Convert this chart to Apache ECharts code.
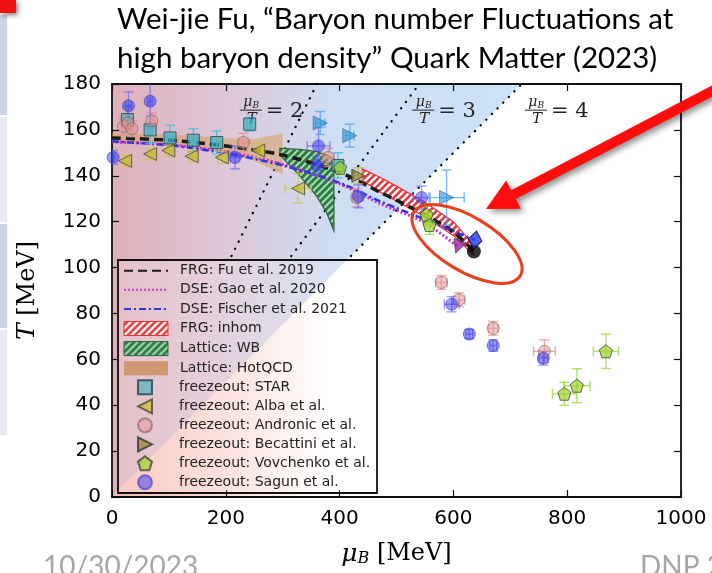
<!DOCTYPE html>
<html><head><meta charset="utf-8">
<script src="https://cdn.jsdelivr.net/npm/echarts@6/dist/echarts.min.js"></script>
<style>html,body{margin:0;padding:0;background:#fff}#c{width:712px;height:573px}</style>
</head><body><div id="c"></div>
<script>
// ---- axes ----
const xTicks = [0, 200, 400, 600, 800, 1000];
const yTicks = [0, 20, 40, 60, 80, 100, 120, 140, 160, 180];
const ratioLines = [2, 3, 4];
const ratioLineFromT = 105;   // the constant-ratio guides are drawn above this temperature

// ---- phase-boundary curves [muB, T] (MeV); last point = critical end point ----
const frgFu      = [[0,156.5],[100,155.5],[200,153],[300,149],[400,141.5],[470,133],[550,123],[600,115.5],[636,107]];
const dseGao     = [[0,154.8],[100,153.5],[200,150.5],[300,145],[400,136.5],[470,128],[550,119.5],[608,109]];
const dseFischer = [[0,155],[100,153.3],[200,149.8],[300,144.5],[400,137],[470,129],[550,121],[638,112]];

// ---- bands: muB, upper T, lower T ----
const inhomX  = [440, 470, 500, 550, 600, 635];
const inhomHi = [143, 139.5, 135.5, 128.5, 120, 110];
const inhomLo = [138, 133, 129, 122, 114, 105.5];
const wbX  = [295, 330, 360, 377, 390];
const wbHi = [152, 151.5, 150.5, 149, 147.5];
const wbLo = [149, 140, 131, 124, 116];
const hotX  = [0, 100, 200, 250, 300];
const hotHi = [158.5, 158, 156.5, 156, 158.5];
const hotLo = [154.5, 153.5, 150, 146.5, 140.5];

// ---- chemical freeze-out points [muB, T, dmuB, dT] ----
const starPts = [[27,164.5,3,5.5],[67,160,4,6],[102,156.5,5,5.5],[143,155.5,6,5],[184,154.5,7,5],[242,162.5,5,3],[397,144.5,8,5.5]];
const albaPts = [[23,146.5,3,2.5],[67,149.5,4,2.5],[99,151,5,2.5],[140,148.5,6,2.5],[193,148,7,2.5],[257,151,8,3],[327,134.5,23,6.5]];
const andronicPts = [[20,161.5,3,3.5],[28,163,3,3.5],[35,160.5,3,3.5],[70,164,4,3.5],[231,154.5,8,4],[380,148,10,4],[430,130.5,8,4],[579,93.5,10,3],[610,86,10,3],[670,73.5,8,3],[760,63.5,19,5]];
const becattiniPts = [[433,140,8,3.5]];
const vovchenkoPts = [[401,143.5,6,3],[553,123,8,4],[558,118.5,8,4],[795,45,21,5],[817,48.5,23,7.4],[868,63.5,22,7.5]];
const sagunPts = [[2,148,3,3],[29,170.5,5,6],[67,172.5,4,11],[216,148,8,5],[363,153,20,8],[360,144.5,6,4],[433,131,8,5],[544,130.5,15,5],[597,84,13,3.3],[628,71,6,2],[670,66,6,2.5],[758,60.5,8,3]];
const otherTriPts = [[366,163,8,5],[418,157.5,7,5],[588,130.5,31,12]];

const legendNames = ['FRG: Fu et al. 2019','DSE: Gao et al. 2020','DSE: Fischer et al. 2021','FRG: inhom','Lattice: WB','Lattice: HotQCD',
  'freezeout: STAR','freezeout: Alba et al.','freezeout: Andronic et al.','freezeout: Becattini et al.','freezeout: Vovchenko et al.','freezeout: Sagun et al.'];

// ---- helpers ----
function hatch(bg, fg, step, lw) {
  const c = document.createElement('canvas'); c.width = c.height = step;
  const g = c.getContext('2d');
  g.fillStyle = bg; g.fillRect(0, 0, step, step);
  g.strokeStyle = fg; g.lineWidth = lw;
  g.beginPath();
  g.moveTo(-1, step + 1); g.lineTo(step + 1, -1);
  g.moveTo(-step / 2 - 1, step / 2 + 1); g.lineTo(step / 2 + 1, -step / 2 - 1);
  g.moveTo(step / 2 - 1, step * 1.5 + 1); g.lineTo(step * 1.5 + 1, step / 2 - 1);
  g.stroke();
  return { image: c, repeat: 'repeat' };
}
const inhomFill = hatch('#e8353a', '#ffffff', 7, 2.4);
const wbFill = hatch('#2f7a4a', '#a6dcae', 7, 2);
const hotFill = 'rgba(214,158,96,0.55)';

const SERIF = '"DejaVu Serif", "Liberation Serif", serif';
const SANS = '"DejaVu Sans", sans-serif';
const SLIDE = 'Lato, "Open Sans", sans-serif';

function band(name, xs, hi, lo, fill, stroke, z) {
  return {
    name, type: 'custom', coordinateSystem: 'cartesian2d', clip: true, z,
    data: [[xs[0], hi[0]]], encode: { x: 0, y: 1 },
    itemStyle: { color: fill },
    renderItem(params, api) {
      const pts = xs.map((x, i) => api.coord([x, hi[i]]))
        .concat(xs.map((x, i) => api.coord([x, lo[i]])).reverse());
      return { type: 'polygon', shape: { points: pts }, style: { fill, stroke, lineWidth: stroke ? 1.2 : 0 } };
    }
  };
}

function errorBars(rows, color, z) {
  return {
    type: 'custom', coordinateSystem: 'cartesian2d', clip: true, z, silent: true,
    data: rows, encode: { x: 0, y: 1 },
    renderItem(params, api) {
      const x = api.value(0), y = api.value(1), dx = api.value(2), dy = api.value(3);
      const l = api.coord([x - dx, y]), r = api.coord([x + dx, y]);
      const t = api.coord([x, y + dy]), b = api.coord([x, y - dy]);
      const cap = 5, st = { stroke: color, lineWidth: 1.4 };
      return { type: 'group', children: [
        { type: 'line', shape: { x1: l[0], y1: l[1], x2: r[0], y2: r[1] }, style: st },
        { type: 'line', shape: { x1: t[0], y1: t[1], x2: b[0], y2: b[1] }, style: st },
        { type: 'line', shape: { x1: l[0], y1: l[1] - cap, x2: l[0], y2: l[1] + cap }, style: st },
        { type: 'line', shape: { x1: r[0], y1: r[1] - cap, x2: r[0], y2: r[1] + cap }, style: st },
        { type: 'line', shape: { x1: t[0] - cap, y1: t[1], x2: t[0] + cap, y2: t[1] }, style: st },
        { type: 'line', shape: { x1: b[0] - cap, y1: b[1], x2: b[0] + cap, y2: b[1] }, style: st }
      ]};
    }
  };
}

const SQUARE = 'path://M0,0L10,0L10,10L0,10Z';
const TRI_L = 'path://M0,5L10,0L10,10Z';
const TRI_R = 'path://M10,5L0,0L0,10Z';
const PENTA = 'path://M5,0L10,3.8L8.1,10L1.9,10L0,3.8Z';
const CIRC = 'circle';

const markerStyles = [
  { rows: starPts, symbol: SQUARE, fill: 'rgba(58,176,188,0.78)', border: '#26404a', size: 12, err: 'rgba(70,190,215,0.85)' },
  { rows: albaPts, symbol: TRI_L, fill: 'rgba(200,184,38,0.82)', border: '#4a4a2a', size: 13, err: 'rgba(200,200,70,0.75)' },
  { rows: andronicPts, symbol: CIRC, fill: 'rgba(226,150,150,0.65)', border: 'rgba(120,90,90,0.75)', size: 12, err: 'rgba(232,140,140,0.75)' },
  { rows: becattiniPts, symbol: TRI_R, fill: 'rgba(150,130,40,0.85)', border: '#333', size: 13, err: 'rgba(190,180,70,0.75)' },
  { rows: vovchenkoPts, symbol: PENTA, fill: 'rgba(160,210,50,0.9)', border: '#444', size: 13, err: 'rgba(165,220,80,0.85)' },
  { rows: sagunPts, symbol: CIRC, fill: 'rgba(48,48,240,0.62)', border: 'rgba(70,70,200,0.85)', size: 12, err: 'rgba(90,90,250,0.6)' }
];

// background regions separated by muB/T = max ratio
const rMax = ratioLines[ratioLines.length - 1];
const Tmax = yTicks[yTicks.length - 1], Xmax = xTicks[xTicks.length - 1];
const bgSeries = [
  {
    type: 'custom', coordinateSystem: 'cartesian2d', clip: true, z: 0, silent: true,
    data: [[0, 0]], encode: { x: 0, y: 1 },
    renderItem(params, api) {
      const pts = [api.coord([0, 0]), api.coord([rMax * Tmax, Tmax]), api.coord([0, Tmax])];
      return { type: 'polygon', shape: { points: pts }, style: {
        fill: new echarts.graphic.LinearGradient(0, 0, 1, 0, [
          { offset: 0, color: 'rgb(222,176,186)' },
          { offset: 0.28, color: 'rgb(222,199,215)' },
          { offset: 0.55, color: 'rgb(206,222,243)' },
          { offset: 1, color: 'rgb(204,226,247)' }]) } };
    }
  },
  {
    type: 'custom', coordinateSystem: 'cartesian2d', clip: true, z: 0, silent: true,
    data: [[0, 0]], encode: { x: 0, y: 1 },
    renderItem(params, api) {
      const pts = [api.coord([0, 0]), api.coord([Xmax, 0]), api.coord([Xmax, Tmax]), api.coord([rMax * Tmax, Tmax])];
      return { type: 'polygon', shape: { points: pts }, style: {
        fill: new echarts.graphic.LinearGradient(0, 0, 1, 0, [
          { offset: 0, color: 'rgb(250,186,178)' },
          { offset: 0.2, color: 'rgb(252,220,214)' },
          { offset: 0.38, color: 'rgb(255,255,255)' },
          { offset: 1, color: 'rgb(255,255,255)' }]) } };
    }
  }
];

// label placement for the muB/T lines
const ratioLabelT = 168.6;
const ratioLabelMu = [244, 547, 745];

const series = [
  ...bgSeries,
  // muB/T = const guides
  ...ratioLines.map(r => ({
    type: 'line', z: 2, silent: true, symbol: 'none',
    data: [[r * ratioLineFromT, ratioLineFromT], [r * Tmax, Tmax]],
    lineStyle: { color: '#000', width: 2.2, type: [0.3, 7.7], cap: 'round' }
  })),
  {
    type: 'custom', coordinateSystem: 'cartesian2d', z: 3, silent: true,
    data: ratioLines.map((r, i) => [ratioLabelMu[i], ratioLabelT, r]), encode: { x: 0, y: 1 },
    renderItem(params, api) {
      const p = api.coord([api.value(0), api.value(1)]);
      const r = api.value(2);
      const col = '#222';
      return { type: 'group', x: p[0], y: p[1], children: [
        { type: 'text', style: { text: 'μ', x: -3, y: -1, align: 'center', verticalAlign: 'bottom', font: 'italic 14px ' + SERIF, fill: col } },
        { type: 'text', style: { text: 'B', x: 5, y: 0, align: 'center', verticalAlign: 'bottom', font: 'italic 9px ' + SERIF, fill: col } },
        { type: 'line', shape: { x1: -11, y1: 0, x2: 11, y2: 0 }, style: { stroke: col, lineWidth: 1 } },
        { type: 'text', style: { text: 'T', x: 1, y: 1, align: 'center', verticalAlign: 'top', font: 'italic 15px ' + SERIF, fill: col } },
        { type: 'text', style: { text: '= ' + r, x: 15, y: 1, align: 'left', verticalAlign: 'middle', font: '21px ' + SERIF, fill: col } }
      ]};
    }
  },
  band(legendNames[5], hotX, hotHi, hotLo, hotFill, null, 4),
  band(legendNames[4], wbX, wbHi, wbLo, wbFill, '#2f5f3f', 5),
  band(legendNames[3], inhomX, inhomHi, inhomLo, inhomFill, '#e8353a', 6),
  // curves
  { name: legendNames[0], type: 'line', z: 7, symbol: 'none', smooth: 0.3, data: frgFu,
    lineStyle: { color: '#1a1a1a', width: 3.5, type: [9, 5] }, itemStyle: { color: '#1a1a1a' } },
  { name: legendNames[1], type: 'line', z: 7, symbol: 'none', smooth: 0.3, data: dseGao,
    lineStyle: { color: '#c936c9', width: 3, type: [2, 2] }, itemStyle: { color: '#c936c9' } },
  { name: legendNames[2], type: 'line', z: 7, symbol: 'none', smooth: 0.3, data: dseFischer,
    lineStyle: { color: '#3434e6', width: 2.5, type: [7, 3, 2, 3] }, itemStyle: { color: '#3434e6' } },
  // critical end points
  { type: 'scatter', z: 12, symbol: 'circle', symbolSize: 14, data: [frgFu[frgFu.length - 1]], itemStyle: { color: '#000' }, silent: true },
  { type: 'scatter', z: 12, symbol: 'diamond', symbolSize: [14, 18], symbolRotate: -10, data: [dseFischer[dseFischer.length - 1]], itemStyle: { color: '#1f3cf0', borderColor: '#000', borderWidth: 1 }, silent: true },
  { type: 'scatter', z: 12, symbol: 'triangle', symbolSize: 13, symbolRotate: 160, data: [dseGao[dseGao.length - 1]], itemStyle: { color: '#9a1fa6', borderColor: '#333', borderWidth: 0.8 }, silent: true },
  // freeze-out error bars and markers
  ...markerStyles.map(m => errorBars(m.rows, m.err, 8)),
  errorBars(otherTriPts, 'rgba(70,165,230,0.75)', 8),
  ...markerStyles.map((m, i) => ({
    name: legendNames[6 + i], type: 'scatter', z: 9, symbol: m.symbol, symbolSize: m.size,
    data: m.rows.map(r => [r[0], r[1]]),
    itemStyle: { color: m.fill, borderColor: m.border, borderWidth: 1 },
    emphasis: { disabled: true }
  })),
  { type: 'scatter', z: 9, symbol: TRI_R, symbolSize: 14, silent: true,
    data: otherTriPts.map(r => [r[0], r[1]]),
    itemStyle: { color: 'rgba(50,150,220,0.8)', borderColor: 'rgba(40,100,160,0.8)', borderWidth: 1 } }
];

const chart = echarts.init(document.getElementById('c'), null, { renderer: 'canvas' });

const axisCommon = {
  axisLine: { show: true, onZero: false, lineStyle: { color: '#111', width: 1.8 } },
  axisTick: { show: true, inside: true, length: 7, lineStyle: { color: '#111', width: 1.2 } },
  splitLine: { show: false }
};

// slide overlay: arrow geometry
const tip = [486, 209], tail = [722, 86];
const ux = (tip[0] - tail[0]), uy = (tip[1] - tail[1]);
const ul = Math.hypot(ux, uy), u = [ux / ul, uy / ul], n = [u[1], -u[0]];
const hl = 31, hw = 16, sw = 5;
const base = [tip[0] - u[0] * hl, tip[1] - u[1] * hl];
const arrowPts = [
  [tail[0] + n[0] * sw, tail[1] + n[1] * sw],
  [base[0] + n[0] * sw, base[1] + n[1] * sw],
  [base[0] + n[0] * hw, base[1] + n[1] * hw],
  tip,
  [base[0] - n[0] * hw, base[1] - n[1] * hw],
  [base[0] - n[0] * sw, base[1] - n[1] * sw],
  [tail[0] - n[0] * sw, tail[1] - n[1] * sw]
];

const legendData = legendNames.map((nm, i) => {
  if (i < 3) return { name: nm, itemStyle: { opacity: 0 } };
  if (i === 3) return { name: nm, icon: 'rect', itemStyle: { color: inhomFill, borderColor: '#e8353a', borderWidth: 1 } };
  if (i === 4) return { name: nm, icon: 'rect', itemStyle: { color: wbFill, borderColor: '#2f5f3f', borderWidth: 1 } };
  if (i === 5) return { name: nm, icon: 'rect', itemStyle: { color: 'rgb(206,152,112)', borderWidth: 0 } };
  const m = markerStyles[i - 6];
  return { name: nm, icon: m.symbol === CIRC ? 'path://M10,5A5,5,0,1,1,0,5A5,5,0,1,1,10,5Z' : m.symbol };
});

const legendBox = { x: 118, y: 260, w: 259, h: 233 };
const legendCommon = {
  orient: 'vertical', z: 30,
  itemWidth: 44, itemHeight: 14,
  padding: 0, backgroundColor: 'transparent', borderWidth: 0,
  textStyle: { fontFamily: SANS, fontSize: 14, color: '#222', padding: [0, 0, 0, 7] },
  selectedMode: false
};

chart.setOption({
  animation: false,
  backgroundColor: '#fff',
  grid: { left: 112, right: 31, top: 84, bottom: 76, containLabel: false },
  xAxis: [
    { type: 'value', min: xTicks[0], max: Xmax, interval: 200, position: 'bottom', ...axisCommon,
      axisLabel: { color: '#000', fontSize: 20, fontFamily: SANS, margin: 12, formatter: v => String(v) },
      name: '{i|μ}{s|B} [MeV]', nameLocation: 'middle', nameGap: 44,
      nameTextStyle: { fontFamily: SERIF, fontSize: 24, color: '#000',
        rich: { i: { fontFamily: SERIF, fontStyle: 'italic', fontSize: 25, color: '#000' },
                s: { fontFamily: SERIF, fontStyle: 'italic', fontSize: 16, color: '#000', verticalAlign: 'bottom', padding: [10, 0, 0, 0] } } } },
    { type: 'value', min: xTicks[0], max: Xmax, interval: 200, position: 'top', ...axisCommon, axisLabel: { show: false } }
  ],
  yAxis: [
    { type: 'value', min: yTicks[0], max: Tmax, interval: 20, position: 'left', ...axisCommon,
      axisLabel: { color: '#000', fontSize: 20, fontFamily: SANS, margin: 11 },
      name: '{i|T} [MeV]', nameLocation: 'middle', nameGap: 72, nameRotate: 90,
      nameTextStyle: { fontFamily: SERIF, fontSize: 24, color: '#000',
        rich: { i: { fontFamily: SERIF, fontStyle: 'italic', fontSize: 25, color: '#000' } } } },
    { type: 'value', min: yTicks[0], max: Tmax, interval: 20, position: 'right', ...axisCommon, axisLabel: { show: false } }
  ],
  legend: [
    { ...legendCommon, left: 123, top: 263.7, itemGap: 5.1, data: legendData.slice(0, 6) },
    { ...legendCommon, left: 137, top: 379.3, itemGap: 3.0, data: legendData.slice(6) }
  ],
  series,
  graphic: [
    // slide title
    { type: 'text', left: 117, top: 4, style: { text: 'Wei-jie Fu, “Baryon number Fluctuations at', font: '29.5px ' + SLIDE, fill: '#000' } },
    { type: 'text', left: 117, top: 43, style: { text: 'high baryon density” Quark Matter (2023)', font: '29.5px ' + SLIDE, fill: '#000' } },
    // slide footer
    { type: 'text', left: 43, top: 553, style: { text: '10/30/2023', font: '28px ' + SLIDE, fill: '#a6a6a6' } },
    { type: 'text', left: 640, top: 553, style: { text: 'DNP 2023', font: '28px ' + SLIDE, fill: '#a6a6a6' } },
    // slide side decorations
    { type: 'rect', shape: { x: 0, y: 15, width: 7, height: 100 }, style: { fill: '#ccd3ea' } },
    { type: 'rect', shape: { x: 0, y: 117, width: 7, height: 105 }, style: { fill: '#e7eaf5' } },
    { type: 'rect', shape: { x: 0, y: 224, width: 7, height: 104 }, style: { fill: '#ccd3ea' } },
    { type: 'rect', shape: { x: 0, y: 330, width: 7, height: 105 }, style: { fill: '#e7eaf5' } },
    { type: 'rect', shape: { x: 0, y: 0, width: 16, height: 13 }, style: { fill: '#ee1111', shadowBlur: 5, shadowColor: 'rgba(0,0,0,0.5)', shadowOffsetX: 2, shadowOffsetY: 2 } },
    // legend frame
    { type: 'rect', z: 20, shape: { x: legendBox.x, y: legendBox.y, width: legendBox.w, height: legendBox.h },
      style: { fill: 'rgba(255,255,255,0.2)', stroke: '#111', lineWidth: 1.8 } },
    // callout ellipse and arrow
    { type: 'ellipse', x: 467, y: 244, rotation: -0.54, shape: { cx: 0, cy: 0, rx: 62, ry: 27 },
      style: { fill: 'none', stroke: '#e8401c', lineWidth: 3 }, z: 100 },
    { type: 'polygon', shape: { points: arrowPts }, z: 101,
      style: { fill: '#ff0d0d', shadowBlur: 6, shadowColor: 'rgba(0,0,0,0.45)', shadowOffsetX: 3, shadowOffsetY: 3 } }
  ]
});
</script></body></html>
